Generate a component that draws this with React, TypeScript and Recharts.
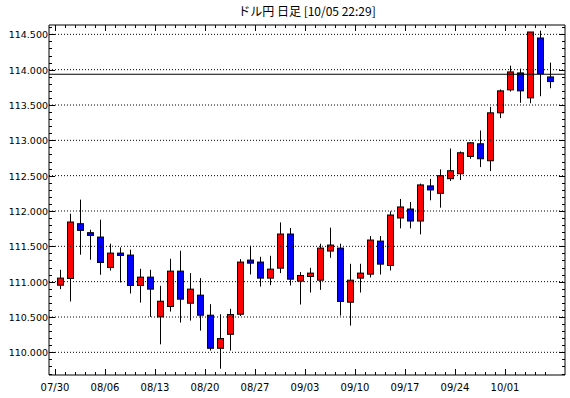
import { ComposedChart, Bar, XAxis, YAxis, ReferenceLine } from "recharts";

const dates = [
  "07/30", "07/31", "08/01", "08/02", "08/03",
  "08/06", "08/07", "08/08", "08/09", "08/10",
  "08/13", "08/14", "08/15", "08/16", "08/17",
  "08/20", "08/21", "08/22", "08/23", "08/24",
  "08/27", "08/28", "08/29", "08/30", "08/31",
  "09/03", "09/04", "09/05", "09/06", "09/07",
  "09/10", "09/11", "09/12", "09/13", "09/14",
  "09/17", "09/18", "09/19", "09/20", "09/21",
  "09/24", "09/25", "09/26", "09/27", "09/28",
  "10/01", "10/02", "10/03", "10/04", "10/05",
];

const opens = [
  110.95, 111.045, 111.82, 111.693, 111.631,
  111.201, 111.404, 111.376, 110.946, 111.064,
  110.501, 110.648, 111.149, 110.695, 110.809,
  110.525, 110.057, 110.255, 110.539, 111.305,
  111.277, 111.05, 111.191, 111.674, 111.007,
  111.073, 111.021, 111.433, 111.475, 110.709,
  111.05, 111.106, 111.574, 111.229, 111.901,
  112.028, 111.858, 112.355, 112.25, 112.457,
  112.527, 112.772, 112.951, 112.711, 113.389,
  113.714, 113.954, 113.601, 114.448, 113.897,
];

const highs = [
  111.168, 111.962, 112.161, 111.735, 111.877,
  111.537, 111.485, 111.452, 111.182, 111.168,
  110.941, 111.324, 111.437, 111.121, 111.05,
  110.681, 110.539, 110.615, 111.319, 111.508,
  111.352, 111.366, 111.839, 111.759, 111.135,
  111.196, 111.537, 111.764, 111.537, 111.253,
  111.253, 111.645, 111.645, 111.995, 112.17,
  112.128, 112.388, 112.454, 112.589, 112.885,
  112.843, 112.975, 113.139, 113.474, 113.72,
  114.057, 114.015, 114.533, 114.552, 114.1,
];

const lows = [
  110.894, 110.719, 111.381, 111.31, 111.097,
  111.158, 110.988, 110.832, 110.704, 110.501,
  110.113, 110.577, 110.421, 110.449, 110.307,
  110.024, 109.768, 110.024, 110.515, 111.102,
  110.931, 110.95, 111.121, 110.946, 110.676,
  110.846, 110.884, 111.338, 110.52, 110.378,
  110.846, 111.059, 111.101, 111.158, 111.754,
  111.754, 111.669, 112.151, 112.047, 112.424,
  112.438, 112.739, 112.621, 112.565, 113.314,
  113.69, 113.53, 113.525, 113.624, 113.737,
];

const closes = [
  111.05, 111.844, 111.726, 111.655, 111.272,
  111.404, 111.371, 110.946, 111.064, 110.894,
  110.723, 111.149, 110.752, 110.894, 110.525,
  110.057, 110.194, 110.534, 111.277, 111.262,
  111.05, 111.177, 111.674, 111.035, 111.087,
  111.121, 111.475, 111.518, 110.719, 111.021,
  111.121, 111.589, 111.248, 111.943, 112.057,
  111.858, 112.369, 112.298, 112.499, 112.57,
  112.824, 112.965, 112.739, 113.389, 113.7,
  113.968, 113.7, 114.533, 113.944, 113.831,
];

const weekLabels = ["07/30", "08/06", "08/13", "08/20", "08/27", "09/03", "09/10", "09/17", "09/24", "10/01"];
const yLabels = [110, 110.5, 111, 111.5, 112, 112.5, 113, 113.5, 114, 114.5];
const priceLine = 113.935;

const rows = dates.map((d, i) => ({
  idx: i,
  date: d,
  open: opens[i],
  high: highs[i],
  low: lows[i],
  close: closes[i],
  range: [lows[i], highs[i]],
}));

const X_DOMAIN: [number, number] = [-1.1, 50.5];
const Y_DOMAIN: [number, number] = [109.679, 114.632];

const xTicks: number[] = [];
for (let i = 0; i < dates.length; i++) xTicks.push(i - 0.5);

const yTicks: number[] = [];
for (let k = 1097; k <= 1146; k++) yTicks.push(k / 10);

const isMajorY = (v: number) => Math.abs(v * 2 - Math.round(v * 2)) < 1e-6;

const FONT = "DejaVu Sans";

const Candle = (p: any) => {
  const { x, y, width, height, payload } = p;
  if (x == null || y == null) return null;
  const cx = Math.round(x + width / 2) + 0.5;
  const top = Math.min(y, y + height);
  const bot = Math.max(y, y + height);
  const { open, high, low, close } = payload;
  const py = (v: number) => top + ((high - v) / (high - low)) * (bot - top);
  const yo = py(open);
  const yc = py(close);
  const up = close >= open;
  return (
    <g>
      <line x1={cx} x2={cx} y1={top} y2={bot} stroke="#000" strokeWidth={1} />
      <rect
        x={cx - 3}
        y={Math.min(yo, yc)}
        width={6}
        height={Math.max(Math.abs(yc - yo), 1)}
        fill={up ? "#ff0000" : "#0000ff"}
        stroke="#000"
        strokeWidth={1}
      />
    </g>
  );
};

const BottomTick = (p: any) => {
  const { x, y, payload } = p;
  const wk = Math.round(payload.value + 0.5);
  const major = wk % 5 === 0;
  const cx = Math.round(x) + 0.5;
  return (
    <g>
      <line x1={cx} x2={cx} y1={y} y2={y - (major ? 6 : 3)} stroke="#000" />
      {major && (
        <text x={x} y={y + 16} textAnchor="middle" fontFamily={FONT} fontSize={10} fill="#000">
          {weekLabels[wk / 5]}
        </text>
      )}
    </g>
  );
};

const TopTick = (p: any) => {
  const { x, y, payload } = p;
  const wk = Math.round(payload.value + 0.5);
  const major = wk % 5 === 0;
  const cx = Math.round(x) + 0.5;
  return <line x1={cx} x2={cx} y1={y} y2={y + (major ? 6 : 3)} stroke="#000" />;
};

const LeftTick = (p: any) => {
  const { x, y, payload } = p;
  const major = isMajorY(payload.value);
  const cy = Math.round(y) + 0.5;
  return (
    <g>
      <line x1={x} x2={x + (major ? 6 : 3)} y1={cy} y2={cy} stroke="#000" />
      {major && (
        <text x={x - 1} y={y + 4} textAnchor="end" fontFamily={FONT} fontSize={9.5} fill="#000">
          {payload.value.toFixed(3)}
        </text>
      )}
    </g>
  );
};

const RightTick = (p: any) => {
  const { x, y, payload } = p;
  const major = isMajorY(payload.value);
  const cy = Math.round(y) + 0.5;
  return <line x1={x} x2={x - (major ? 6 : 3)} y1={cy} y2={cy} stroke="#000" />;
};

export default function App() {
  return (
    <div style={{ position: "absolute", left: 0, top: 0, width: 570, height: 398, background: "#fff" }}>
      <div
        style={{
          position: "absolute",
          left: 49,
          width: 516,
          top: 4,
          textAlign: "center",
          fontFamily: "'Noto Sans CJK JP', sans-serif",
          fontSize: 12,
          lineHeight: "14px",
          color: "#000",
        }}
      >
        ドル円 日足 [10/05 22:29]
      </div>
      <ComposedChart width={570} height={398} data={rows} margin={{ top: 24, right: 4, bottom: 0, left: 0 }}>
        <XAxis
          xAxisId="b"
          dataKey="idx"
          type="number"
          domain={X_DOMAIN}
          allowDataOverflow
          ticks={xTicks}
          interval={0}
          height={23}
          tickSize={0}
          tickMargin={0}
          tick={<BottomTick />}
          axisLine={{ stroke: "#000" }}
          tickLine={false}
        />
        <XAxis
          xAxisId="t"
          orientation="top"
          dataKey="idx"
          type="number"
          domain={X_DOMAIN}
          allowDataOverflow
          ticks={xTicks}
          interval={0}
          height={1}
          tickSize={0}
          tickMargin={0}
          tick={<TopTick />}
          axisLine={{ stroke: "#000" }}
          tickLine={false}
        />
        <YAxis
          yAxisId="l"
          type="number"
          domain={Y_DOMAIN}
          allowDataOverflow
          ticks={yTicks}
          interval={0}
          width={49}
          tickSize={0}
          tickMargin={0}
          tick={<LeftTick />}
          axisLine={{ stroke: "#000" }}
          tickLine={false}
        />
        <YAxis
          yAxisId="r"
          orientation="right"
          type="number"
          domain={Y_DOMAIN}
          allowDataOverflow
          ticks={yTicks}
          interval={0}
          width={1}
          tickSize={0}
          tickMargin={0}
          tick={<RightTick />}
          axisLine={{ stroke: "#000" }}
          tickLine={false}
        />
        {yLabels.map((v) => (
          <ReferenceLine
            key={v}
            xAxisId="b"
            yAxisId="l"
            y={v}
            stroke="#000"
            strokeDasharray="1 2"
            ifOverflow="hidden"
          />
        ))}
        <Bar
          xAxisId="b"
          yAxisId="l"
          dataKey="range"
          barSize={7}
          shape={Candle}
          isAnimationActive={false}
        />
        <ReferenceLine xAxisId="b" yAxisId="l" y={priceLine} stroke="#000" strokeWidth={1} />
      </ComposedChart>
    </div>
  );
}
